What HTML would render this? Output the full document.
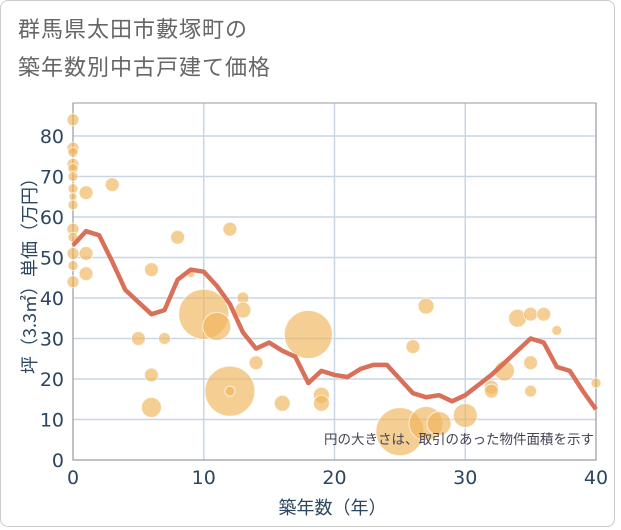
<!DOCTYPE html>
<html><head><meta charset="utf-8"><style>
body{margin:0;background:#fff;font-family:"Liberation Sans","Noto Sans CJK JP",sans-serif}
#frame{position:absolute;left:0;top:0;width:615px;height:527px;border:1px solid #ccc;border-radius:8px;box-sizing:border-box}
.t{position:absolute;left:18px;font-size:22px;color:#666;letter-spacing:1px;font-family:"Noto Sans CJK JP",sans-serif}
</style></head><body>
<div id="frame"></div>
<div class="t" style="top:12px">群馬県太田市藪塚町の</div>
<div class="t" style="top:50px">築年数別中古戸建て価格</div>
<svg id="c" width="621" height="530" style="position:absolute;left:0;top:0"></svg>
<script>
const lineAges=[0,1,2,3,4,5,6,7,8,9,10,11,12,13,14,15,16,17,18,19,20,21,22,23,24,25,26,27,28,29,30,31,32,33,34,35,36,37,38,39,40];
const lineValues=[53,56.5,55.5,49,42,39,36,37,44.5,47,46.5,43,38.5,31.5,27.5,29,27,25.5,19,22,21,20.5,22.5,23.5,23.5,20,16.5,15.5,16,14.5,16,18.5,21,24,27,30,29,23,22,17,12.5];
const bubbleAges=[0,0,0,0,0,0,0,0,0,0,0,0,0,0,1,1,1,3,5,6,6,6,7,8,9,10,11,12,12,12,13,13,14,16,18,19,19,25,26,27,27,28,30,32,32,33,34,35,35,35,36,37,40];
const bubbleValues=[84,77,76,73,72,70,67,65,63,57,55,51,48,44,66,51,46,68,30,47,21,13,30,55,46,36,33,17,17,57,40,37,24,14,31,16,14,7,28,38,9,9,11,18,17,22,35,36,24,17,36,32,19];
const bubbleSizes=[6,6,5,6,5,5,5,4,5,6,5,6,5,6,7,7,7,7,7,7,7,10,6,7,4,25,14,25,5,7,6,8,7,8,24,8,8,24,7,8,17,12,12,7,7,10,9,7,7,6,7,5,5];
const xTicks=[0,10,20,30,40];
const yTicks=[0,10,20,30,40,50,60,70,80];
const L=73,R=596,T=103,B=460;
const xs=v=>L+(R-L)*v/40, ys=v=>B-(B-136)*v/80;
const svg=document.getElementById('c');const NS='http://www.w3.org/2000/svg';
function mk(t,a,p){const e=document.createElementNS(NS,t);for(const k in a)e.setAttribute(k,a[k]);(p||svg).appendChild(e);return e;}
const TF='"DejaVu Sans",sans-serif';
const g=mk('g',{});

yTicks.forEach(v=>{mk('line',{x1:L,x2:R,y1:ys(v),y2:ys(v),stroke:'#c8d6e6','stroke-width':1.5},g);
const t=mk('text',{x:L-9,y:ys(v)+7,'text-anchor':'end','font-size':19,fill:'#2c4560','font-family':TF});t.textContent=v;
});
xTicks.forEach(v=>{mk('line',{x1:xs(v),x2:xs(v),y1:T,y2:B,stroke:'#c8d6e6','stroke-width':1.5},g);
const t=mk('text',{x:xs(v),y:B+24,'text-anchor':'middle','font-size':19,fill:'#2c4560','font-family':TF});t.textContent=v;
});
const bx=mk('rect',{x:L,y:T,width:R-L,height:B-T,fill:'none',stroke:'#999','stroke-width':1});

bubbleAges.forEach((a,i)=>{const c=mk('circle',{cx:xs(a),cy:ys(bubbleValues[i]),r:bubbleSizes[i],fill:'rgba(240,180,90,0.65)',stroke:'rgba(255,255,255,0.7)','stroke-width':1});
});
const p=mk('polyline',{points:lineAges.map((a,i)=>xs(a)+','+ys(lineValues[i])).join(' '),fill:'none',stroke:'#d9705a','stroke-width':4.5,'stroke-linejoin':'round'});

const n=mk('text',{x:594,y:444,'text-anchor':'end','font-size':13.5,fill:'#445','font-family':'"Noto Sans CJK JP",sans-serif'});n.textContent='円の大きさは、取引のあった物件面積を示す';

const xt=mk('text',{x:(L+R)/2-2,y:514,'text-anchor':'middle','font-size':18,fill:'#2c4560','font-family':'"Noto Sans CJK JP",sans-serif'});xt.textContent='築年数（年）';

const yt=mk('text',{x:0,y:0,'text-anchor':'middle','font-size':18,fill:'#2c4560','font-family':'"Noto Sans CJK JP",sans-serif',transform:'translate(36,'+((T+B)/2-10)+') rotate(-90)'});yt.textContent='坪（3.3㎡）単価（万円）';

</script>
</body></html>
